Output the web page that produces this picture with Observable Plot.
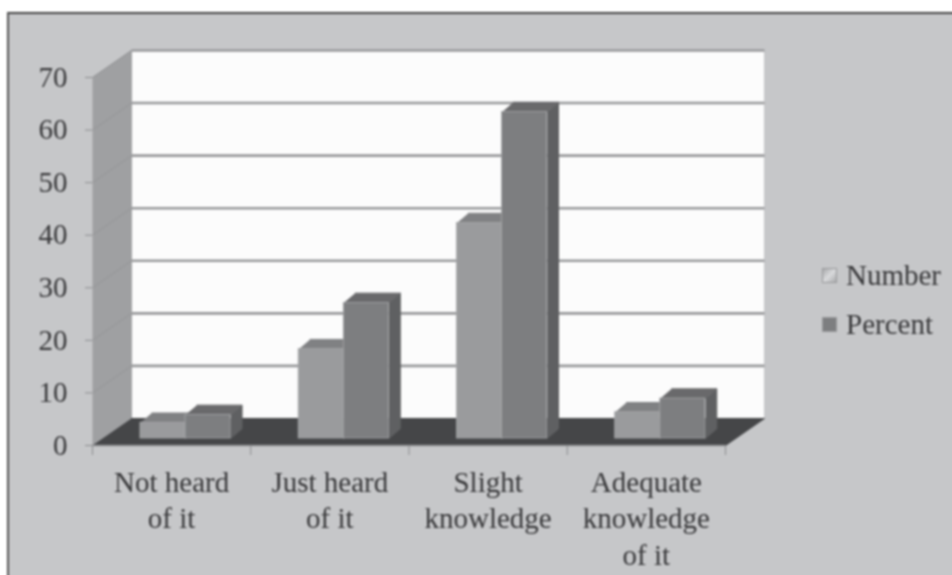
<!DOCTYPE html>
<html>
<head>
<meta charset="utf-8">
<script src="https://cdn.jsdelivr.net/npm/d3@7"></script>
<script src="https://cdn.jsdelivr.net/npm/@observablehq/plot@0.6"></script>
<style>
  html, body { margin: 0; padding: 0; background: #fff; overflow: hidden; }
  #frame { position: relative; width: 952px; height: 575px; filter: blur(0.8px); }
  #panel { position: absolute; left: 7px; top: 12px; right: -4px; bottom: -4px; background: #c6c7c9;
           border-top: 2px solid #444; border-left: 2px solid #555; }
  #chart { position: absolute; left: 0; top: 0; }
  #legend { position: absolute; left: 822px; top: 251px; font: 29px "Liberation Serif", serif; color: #38383a; }
  #legend div { display: flex; align-items: center; height: 49px; }
  #legend i { display: block; width: 15px; height: 15px; margin-right: 9px; box-sizing: border-box; border: 1px solid #98999b; }
</style>
</head>
<body>
<div id="frame">
  <div id="panel"></div>
  <div id="chart"></div>
  <div id="legend"></div>
</div>
<script>
const categories = ["Not heard\nof it", "Just heard\nof it", "Slight\nknowledge", "Adequate\nknowledge\nof it"];
const seriesNames = ["Number", "Percent"];
const numberValues = [3, 17, 41, 5];
const percentValues = [4.5, 25.8, 62.1, 7.6];
const yTicks = [0, 10, 20, 30, 40, 50, 60, 70];
const xBoundaries = [0, 1, 2, 3, 4];

// oblique projection of the 3-D box, in data units
const wallDx = 0.2465, wallDy = 5.14;   // depth of the chart box
const barDx = 0.072, barDy = 1.85;      // depth of one bar
const barBase = 1.33;                   // bars stand part way into the floor
const barStart = 0.303, barWidth = 0.285;

const font = '"Liberation Serif", serif';
const ink = "#38383a";

const poly = (id, pts) => pts.map(([x, y]) => ({id, x, y}));
const polygon = (rows, fill, stroke) =>
  Plot.line(rows, {x: "x", y: "y", z: "id", fill, stroke: stroke ?? fill, strokeWidth: 1, curve: "linear"});

function barMarks(values, slot, front, side, top) {
  const left = i => i + barStart + slot * barWidth;
  const sides = values.flatMap((v, i) => {
    const r = left(i) + barWidth, b = barBase, t = barBase + v;
    return poly(i, [[r, b], [r + barDx, b + barDy], [r + barDx, t + barDy], [r, t]]);
  });
  const tops = values.flatMap((v, i) => {
    const l = left(i), r = l + barWidth, t = barBase + v;
    return poly(i, [[l, t], [r, t], [r + barDx, t + barDy], [l + barDx, t + barDy]]);
  });
  return [
    polygon(sides, side),
    polygon(tops, top),
    Plot.rect(values, {
      x1: (v, i) => left(i), x2: (v, i) => left(i) + barWidth,
      y1: barBase, y2: v => barBase + v,
      fill: front, stroke: "#a7a8aa", strokeWidth: 0.8
    })
  ];
}

const chart = Plot.plot({
  width: 952, height: 575,
  marginLeft: 92, marginRight: 227, marginTop: 77, marginBottom: 130,
  style: {background: "transparent", fontFamily: font, fontSize: "29px", overflow: "visible"},
  x: {type: "linear", domain: [0, 4], label: null},
  y: {type: "linear", domain: [0, 70], label: null},
  marks: [
    // back wall
    Plot.rect([0], {x1: wallDx, x2: 4 + wallDx, y1: wallDy, y2: 70 + wallDy, fill: "#fcfcfc"}),
    // side wall
    polygon(poly("wall", [[0, 0], [wallDx, wallDy], [wallDx, 70 + wallDy], [0, 70]]), "#9fa0a2"),
    // gridlines across the wall and the back
    Plot.link(yTicks, {x1: 0, y1: d => d, x2: wallDx, y2: d => d + wallDy, stroke: "#949597", strokeWidth: 1}),
    Plot.link(yTicks.slice(1), {x1: wallDx, y1: d => d + wallDy, x2: 4 + wallDx, y2: d => d + wallDy, stroke: "#98999b", strokeWidth: 2.6}),
    // floor
    polygon(poly("floor", [[0, 0], [4, 0], [4 + wallDx, wallDy], [wallDx, wallDy]]), "#454648"),
    ...barMarks(numberValues, 0, "#9a9b9d", "#77787a", "#808183"),
    ...barMarks(percentValues, 1, "#7d7e80", "#5f6062", "#69696b"),
    Plot.ruleY([0], {x1: 0, x2: 4, stroke: "#8f9092", strokeWidth: 1.5}),
    Plot.axisY({ticks: yTicks, tickSize: 7, tickPadding: 18, stroke: "#8b8c8e", fill: ink, label: null, fontSize: 29}),
    Plot.axisX({ticks: xBoundaries, tickSize: 10, tickFormat: () => "", stroke: "#8b8c8e", label: null}),
    Plot.text(categories, {
      x: (d, i) => i + 0.5, y: 0, text: d => d,
      dy: 20, lineAnchor: "top", lineHeight: 1.27, textAnchor: "middle",
      fill: ink, fontSize: 29
    })
  ]
});
document.getElementById("chart").append(chart);

const legend = document.getElementById("legend");
const swatches = ["linear-gradient(135deg,#a9aaac,#d9dadc 50%,#a9aaac)", "#7d7e80"];
seriesNames.forEach((name, i) => {
  const row = document.createElement("div");
  const sw = document.createElement("i");
  sw.style.background = swatches[i];
  row.append(sw, name);
  legend.append(row);
});
</script>
</body>
</html>
